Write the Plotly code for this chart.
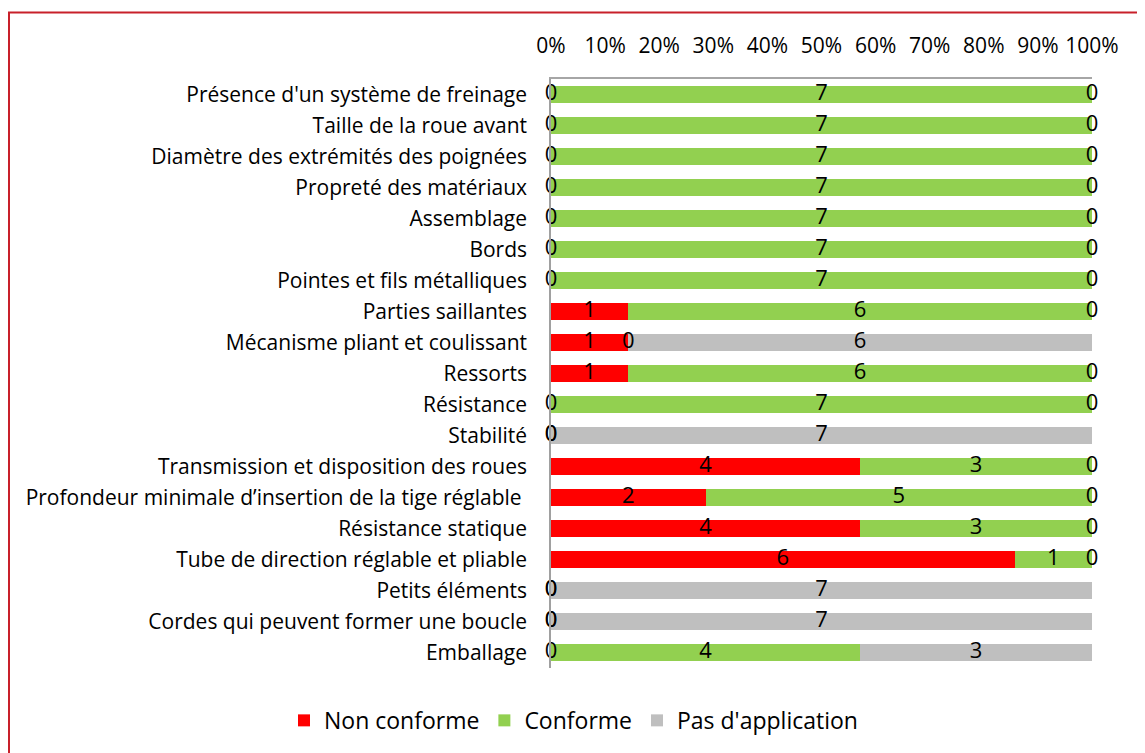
import plotly.graph_objects as go

categories = [
    "Présence d'un système de freinage",
    "Taille de la roue avant",
    "Diamètre des extrémités des poignées",
    "Propreté des matériaux",
    "Assemblage",
    "Bords",
    "Pointes et fils métalliques",
    "Parties saillantes",
    "Mécanisme pliant et coulissant",
    "Ressorts",
    "Résistance",
    "Stabilité",
    "Transmission et disposition des roues",
    "Profondeur minimale d’insertion de la tige réglable ",
    "Résistance statique",
    "Tube de direction réglable et pliable",
    "Petits éléments",
    "Cordes qui peuvent former une boucle",
    "Emballage",
]
non_conforme = [0, 0, 0, 0, 0, 0, 0, 1, 1, 1, 0, 0, 4, 2, 4, 6, 0, 0, 0]
conforme = [7, 7, 7, 7, 7, 7, 7, 6, 0, 6, 7, 0, 3, 5, 3, 1, 0, 0, 4]
pas_application = [0, 0, 0, 0, 0, 0, 0, 0, 6, 0, 0, 7, 0, 0, 0, 0, 7, 7, 3]
# which zero-valued segments carry a visible "0" label in the original
show_zero = {
    "non": [True] * 19,
    "conf": [False, False, False, False, False, False, False, False, True, False, False, True,
             False, False, False, False, True, True, False],
    "pas": [True, True, True, True, True, True, True, True, False, True, True, False,
            True, True, True, True, False, False, False],
}
tick_vals = [0, 10, 20, 30, 40, 50, 60, 70, 80, 90, 100]
tick_text = ["0%", "10%", "20%", "30%", "40%", "50%", "60%", "70%", "80%", "90%", "100%"]

FONT = "Open Sans, sans-serif"
series = [
    ("Non conforme", non_conforme, "#FF0000", "non"),
    ("Conforme", conforme, "#92D050", "conf"),
    ("Pas d'application", pas_application, "#BFBFBF", "pas"),
]

fig = go.Figure()
for name, vals, col, _ in series:
    fig.add_trace(go.Bar(
        y=categories, x=vals, name=name, orientation="h",
        marker=dict(color=col, line=dict(width=0)),
        hoverinfo="skip",
    ))

# data labels at the centre of each segment (percent scale)
totals = [a + b + c for a, b, c in zip(non_conforme, conforme, pas_application)]
cum = [0] * len(categories)
for name, vals, col, key in series:
    xs, ys, ts = [], [], []
    for i, v in enumerate(vals):
        mid = (cum[i] + v / 2) / totals[i] * 100
        if v > 0 or show_zero[key][i]:
            xs.append(mid)
            ys.append(categories[i])
            ts.append(str(v))
        cum[i] += v
    fig.add_trace(go.Scatter(
        x=xs, y=ys, text=ts, mode="text", textposition="middle center",
        textfont=dict(family=FONT, size=22, color="black"),
        showlegend=False, hoverinfo="skip", cliponaxis=False,
    ))

# the page adds an 8px body margin, so figure coordinates are shifted by 8px
L, R, T, B = 543, 61, 70.5, 92.5
PW, PH = 1145 - L - R, 753 - T - B
n = len(categories)

fig.update_layout(
    barmode="stack", barnorm="percent", bargap=0.42,
    width=1145, height=753,
    margin=dict(l=L, r=R, t=T, b=B, autoexpand=False),
    paper_bgcolor="white", plot_bgcolor="white",
    font=dict(family=FONT, size=21, color="black"),
    legend=dict(orientation="h", xref="paper", yref="paper",
                x=(276 - L) / PW, xanchor="left",
                y=(753 - B - 713) / PH, yanchor="middle",
                font=dict(family=FONT, size=23), traceorder="normal"),
    xaxis=dict(side="top", range=[0, 100], tickvals=tick_vals, ticktext=tick_text,
               showgrid=False, zeroline=False, showline=True, linecolor="#A6A6A6", linewidth=1.5,
               ticks="outside", ticklen=16, tickcolor="rgba(0,0,0,0)",
               tickfont=dict(family=FONT, size=21)),
    yaxis=dict(range=[n - 0.5, -0.5], autorange=False, showgrid=False, zeroline=False,
               showline=True, linecolor="#A0A0A0", linewidth=1.5,
               ticks="outside", ticklen=18, tickcolor="rgba(0,0,0,0)",
               tickfont=dict(family=FONT, size=21)),
    shapes=[dict(type="rect", xref="paper", yref="paper",
                 x0=(1 - L) / PW, x1=(1160 - L) / PW,
                 y0=(753 - B - 770) / PH, y1=1 + (T - 4) / PH,
                 line=dict(color="#C8202A", width=2), fillcolor="rgba(0,0,0,0)")],
)

fig.write_html("out.html")
